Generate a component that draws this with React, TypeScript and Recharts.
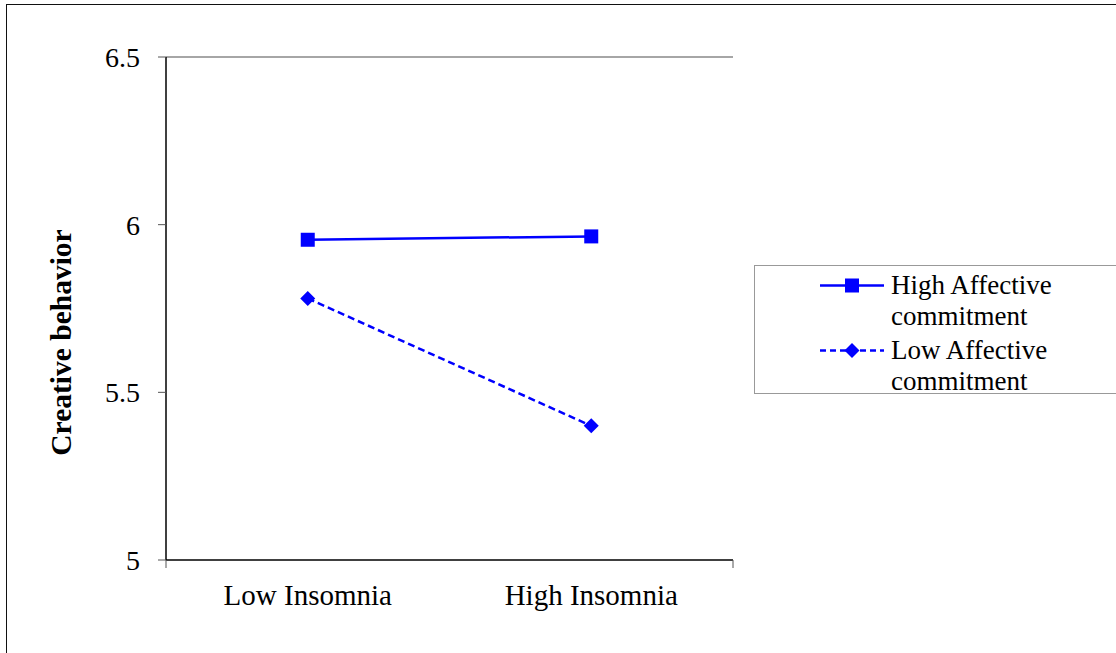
import React from "react";
import {
  Legend,
  Line,
  LineChart,
  ReferenceLine,
  XAxis,
  YAxis
} from "recharts";

const categories = ["Low Insomnia", "High Insomnia"];
const highAffective = [5.955, 5.965];
const lowAffective = [5.78, 5.4];
const yTicks = [5, 5.5, 6, 6.5];
const boundaryTicks = [0, 1, 2];
const seriesNames = ["High Affective commitment", "Low Affective commitment"];

const data = categories.map((name, i) => ({
  name,
  high: highAffective[i],
  low: lowAffective[i]
}));

const FONT = "'Liberation Serif', 'Times New Roman', serif";
const BLUE = "#0000ff";

function SquareDot(props: any) {
  const { cx, cy, index } = props;
  if (cx == null || cy == null) return null;
  return <rect key={`sq-${index}`} x={cx - 7} y={cy - 7} width={14} height={14} fill={BLUE} />;
}

function DiamondDot(props: any) {
  const { cx, cy, index } = props;
  if (cx == null || cy == null) return null;
  const r = 7.5;
  return (
    <polygon
      key={`dm-${index}`}
      points={`${cx},${cy - r} ${cx + r},${cy} ${cx},${cy + r} ${cx - r},${cy}`}
      fill={BLUE}
    />
  );
}

function LegendBox({ payload }: any) {
  return (
    <div
      style={{
        width: 400,
        height: 129,
        boxSizing: "border-box",
        border: "1.5px solid #999",
        background: "#fff",
        paddingTop: 4,
        fontFamily: FONT,
        fontSize: 27,
        lineHeight: "31px",
        color: "#000"
      }}
    >
      {(payload || []).map((entry: any, i: number) => {
        const dashed = entry.payload?.strokeDasharray;
        return (
          <div key={i} style={{ display: "flex", marginBottom: 3 }}>
            <svg width={64} height={31} style={{ marginLeft: 65, flex: "none" }}>
              <line
                x1={0}
                x2={64}
                y1={15.5}
                y2={15.5}
                stroke={BLUE}
                strokeWidth={2.5}
                strokeDasharray={dashed ? "6 4" : undefined}
              />
              {i === 0 ? (
                <rect x={25} y={8.5} width={14} height={14} fill={BLUE} />
              ) : (
                <polygon points="32,8 39.5,15.5 32,23 24.5,15.5" fill={BLUE} />
              )}
            </svg>
            <div style={{ marginLeft: 7, width: 175 }}>{entry.value}</div>
          </div>
        );
      })}
    </div>
  );
}

export default function App() {
  return (
    <div
      style={{
        position: "absolute",
        left: 0,
        top: 0,
        width: 1116,
        height: 653,
        overflow: "hidden",
        background: "#fff"
      }}
    >
      <div
        style={{
          position: "absolute",
          left: 6,
          top: 4,
          width: 1200,
          height: 800,
          borderLeft: "1.5px solid #111",
          borderTop: "1.5px solid #111"
        }}
      />
      <div style={{ position: "absolute", left: 0, top: 0 }}>
        <LineChart
          width={1116}
          height={653}
          data={data}
          margin={{ top: 57, right: 383, left: 106, bottom: 33 }}
        >
          <XAxis
            xAxisId="b_cat"
            dataKey="name"
            height={50}
            padding={{ left: 141.75, right: 141.75 }}
            axisLine={false}
            tickLine={false}
            tickSize={0}
            tickMargin={14}
            tick={{ fill: "#000", fontSize: 29, fontFamily: FONT }}
          />
          <XAxis
            xAxisId="a_grid"
            type="number"
            domain={[0, 2]}
            ticks={boundaryTicks}
            tickFormatter={() => ""}
            height={10}
            tickSize={8}
            stroke="#000"
            axisLine={{ stroke: "#000", strokeWidth: 1.5 }}
            tickLine={{ stroke: "#555" }}
          />
          <YAxis
            domain={[5, 6.5]}
            ticks={yTicks}
            width={60}
            tickSize={8}
            tickMargin={18}
            axisLine={{ stroke: "#000", strokeWidth: 1.5 }}
            tickLine={{ stroke: "#555" }}
            tick={{ fill: "#000", fontSize: 28, fontFamily: FONT }}
            label={{
              content: (p: any) => {
                const vb = p.viewBox || { x: 106, y: 57, width: 60, height: 503 };
                const x = vb.x - 45;
                const y = vb.y + vb.height / 2 + 34;
                return (
                  <text
                    x={x}
                    y={y}
                    transform={`rotate(-90, ${x}, ${y})`}
                    textAnchor="middle"
                    dominantBaseline="central"
                    fontFamily={FONT}
                    fontSize={29.5}
                    fontWeight="bold"
                    fill="#000"
                  >
                    Creative behavior
                  </text>
                );
              }
            }}
          />
          <ReferenceLine xAxisId="a_grid" y={6.5} stroke="#888" strokeWidth={1.5} />
          <ReferenceLine xAxisId="a_grid" x={2} stroke="#888" strokeWidth={1.5} />
          <Line
            xAxisId="b_cat"
            dataKey="high"
            name={seriesNames[0]}
            stroke={BLUE}
            strokeWidth={2.5}
            dot={SquareDot}
            activeDot={false}
            isAnimationActive={false}
          />
          <Line
            xAxisId="b_cat"
            dataKey="low"
            name={seriesNames[1]}
            stroke={BLUE}
            strokeWidth={2.5}
            strokeDasharray="7 4"
            dot={DiamondDot}
            activeDot={false}
            isAnimationActive={false}
          />
          <Legend
            layout="horizontal"
            verticalAlign="middle"
            align="center"
            content={<LegendBox />}
            wrapperStyle={{ position: "absolute", left: 754, top: 265, width: 400 }}
          />
        </LineChart>
      </div>
    </div>
  );
}
